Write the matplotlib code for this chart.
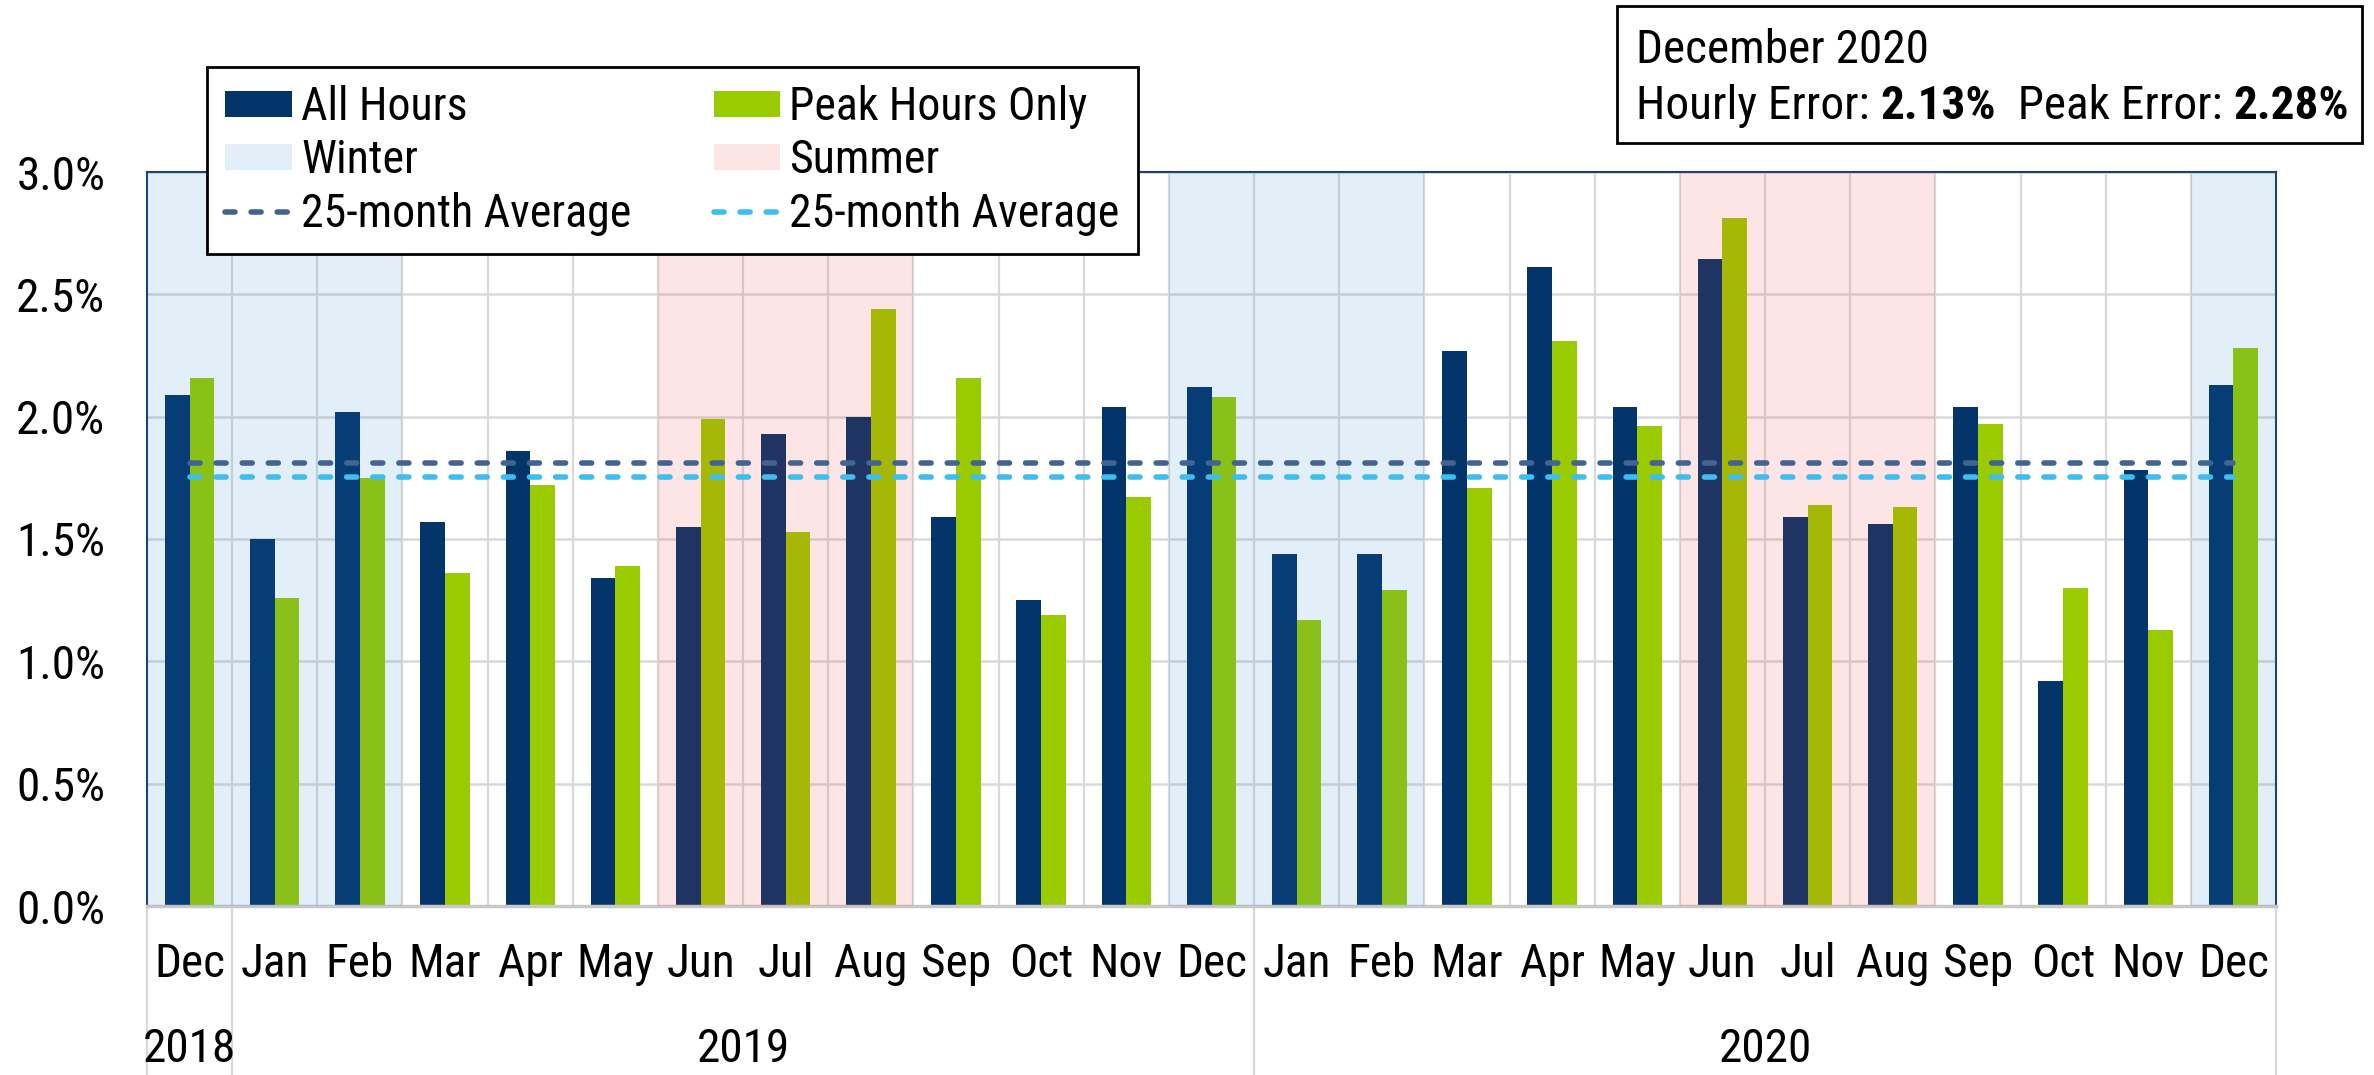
import numpy as np
import matplotlib
matplotlib.use("Agg")
import matplotlib.pyplot as plt
import matplotlib.transforms as mtransforms
from matplotlib.patches import Patch, Rectangle
from matplotlib.lines import Line2D

# narrow face like the original, falling back to regular sans
plt.rcParams['font.family'] = ['Roboto Condensed', 'Archivo Narrow', 'Liberation Sans', 'DejaVu Sans']

# monthly forecast error, Dec 2018 - Dec 2020 (percent)
months = ['Dec', 'Jan', 'Feb', 'Mar', 'Apr', 'May', 'Jun', 'Jul', 'Aug', 'Sep', 'Oct', 'Nov',
          'Dec', 'Jan', 'Feb', 'Mar', 'Apr', 'May', 'Jun', 'Jul', 'Aug', 'Sep', 'Oct', 'Nov', 'Dec']
years = ['2018', '2019', '2020']
year_first = [0, 1, 13]
year_last = [0, 12, 24]
all_hours = [2.09, 1.50, 2.02, 1.57, 1.86, 1.34, 1.55, 1.93, 2.00, 1.59, 1.25, 2.04,
             2.12, 1.44, 1.44, 2.27, 2.61, 2.04, 2.645, 1.59, 1.56, 2.04, 0.92, 1.78, 2.13]
peak_hours = [2.16, 1.26, 1.75, 1.36, 1.72, 1.39, 1.99, 1.53, 2.44, 2.16, 1.19, 1.67,
              2.08, 1.17, 1.29, 1.71, 2.31, 1.96, 2.81, 1.64, 1.63, 1.97, 1.30, 1.13, 2.28]
avg_all = 1.81
avg_peak = 1.755
winter = ['Dec', 'Jan', 'Feb']
summer = ['Jun', 'Jul', 'Aug']

navy = '#03356B'
green = '#9ACB00'
avg_dark = '#416490'
avg_light = '#3DBEEF'
grid_c = '#D9D9D9'
dots = (0, (1.8, 2.9))
fs = 34

fig = plt.figure(figsize=(23.74, 10.75), dpi=100)
ax = fig.add_axes([147 / 2374, 1 - 906 / 1075, (2276 - 147) / 2374, (906 - 172) / 1075])

x = np.arange(len(months))
ax.bar(x - 0.145, all_hours, 0.29, color=navy, zorder=2)
ax.bar(x + 0.145, peak_hours, 0.29, color=green, zorder=2)

# season shading sits on top of the bars, like the original
for i, m in enumerate(months):
    if m in winter:
        ax.axvspan(i - 0.5, i + 0.5, color='#1C7CC8', alpha=0.12, lw=0, zorder=3)
    elif m in summer:
        ax.axvspan(i - 0.5, i + 0.5, color='#F03030', alpha=0.12, lw=0, zorder=3)

ax.vlines(x[:-1] + 0.5, 0, 3, color=grid_c, lw=1.6, zorder=1)
ax.plot(x[[0, -1]], [avg_all, avg_all], color=avg_dark, lw=4, linestyle=dots,
        dash_capstyle='round', zorder=4)
ax.plot(x[[0, -1]], [avg_peak, avg_peak], color=avg_light, lw=4, linestyle=dots,
        dash_capstyle='round', zorder=4)

ax.set_xlim(-0.5, len(months) - 0.5)
ax.set_ylim(0, 3.0)
ax.set_yticks(np.arange(0, 3.01, 0.5))
ax.set_yticklabels(['%.1f%%' % v for v in np.arange(0, 3.01, 0.5)])
ax.set_xticks(x)
ax.set_xticklabels(months)
ax.yaxis.grid(True, color=grid_c, lw=1.8)
ax.set_axisbelow(True)
ax.tick_params(axis='y', length=0, labelsize=fs, pad=30)
ax.tick_params(axis='x', length=0, labelsize=fs, pad=26)
for s in ['left', 'top', 'right']:
    ax.spines[s].set_color('#1F3F6E')
    ax.spines[s].set_linewidth(1.5)
ax.spines['bottom'].set_color('#C8C8C8')
ax.spines['bottom'].set_linewidth(2.5)

# year row with separators
trans = mtransforms.blended_transform_factory(ax.transData, ax.transAxes)
for name, a, b in zip(years, year_first, year_last):
    ax.text((a + b) / 2, -0.195, name, transform=trans, ha='center', va='center', fontsize=fs)
for b in [-0.5, 0.5, 12.5, len(months) - 0.5]:
    ax.plot([b, b], [0, -0.24], transform=trans, clip_on=False, color=grid_c, lw=1.6)

handles = [Patch(facecolor=navy), Patch(facecolor='#1C7CC8', alpha=0.12),
           Line2D([], [], color=avg_dark, lw=4, linestyle=dots, dash_capstyle='round'),
           Patch(facecolor=green), Patch(facecolor='#F03030', alpha=0.12),
           Line2D([], [], color=avg_light, lw=4, linestyle=dots, dash_capstyle='round')]
labels = ['All Hours', 'Winter', '25-month Average',
          'Peak Hours Only', 'Summer', '25-month Average']
leg = fig.legend(handles, labels, ncol=2, loc='upper left',
                 bbox_to_anchor=(207 / 2374, 1 - 67 / 1075), fontsize=33,
                 frameon=True, fancybox=False, edgecolor='black', framealpha=1,
                 handlelength=1.45, handleheight=0.5, handletextpad=0.2,
                 columnspacing=1.8, labelspacing=0.2, borderpad=0.4, borderaxespad=0)
leg.get_frame().set_linewidth(2)

# summary box, top right
fig.patches.append(Rectangle((1617 / 2374, 1 - 143 / 1075), 745 / 2374, 137 / 1075,
                             transform=fig.transFigure, fill=False, ec='black', lw=2))
fig.text(1636 / 2374, 1 - 63 / 1075, 'December 2020', fontsize=fs, va='baseline')
prev = fig.text(1636 / 2374, 1 - 119 / 1075, 'Hourly Error: ', fontsize=fs, va='baseline')
parts = [('2.13%', 'bold'), ('  Peak Error: ', 'normal'), ('2.28%', 'bold')]
for txt, w in parts:
    prev = ax.annotate(txt, xy=(1, 0), xycoords=prev, fontsize=fs, fontweight=w,
                       va='bottom', ha='left', annotation_clip=False)

fig.savefig('out.png', dpi=100)
